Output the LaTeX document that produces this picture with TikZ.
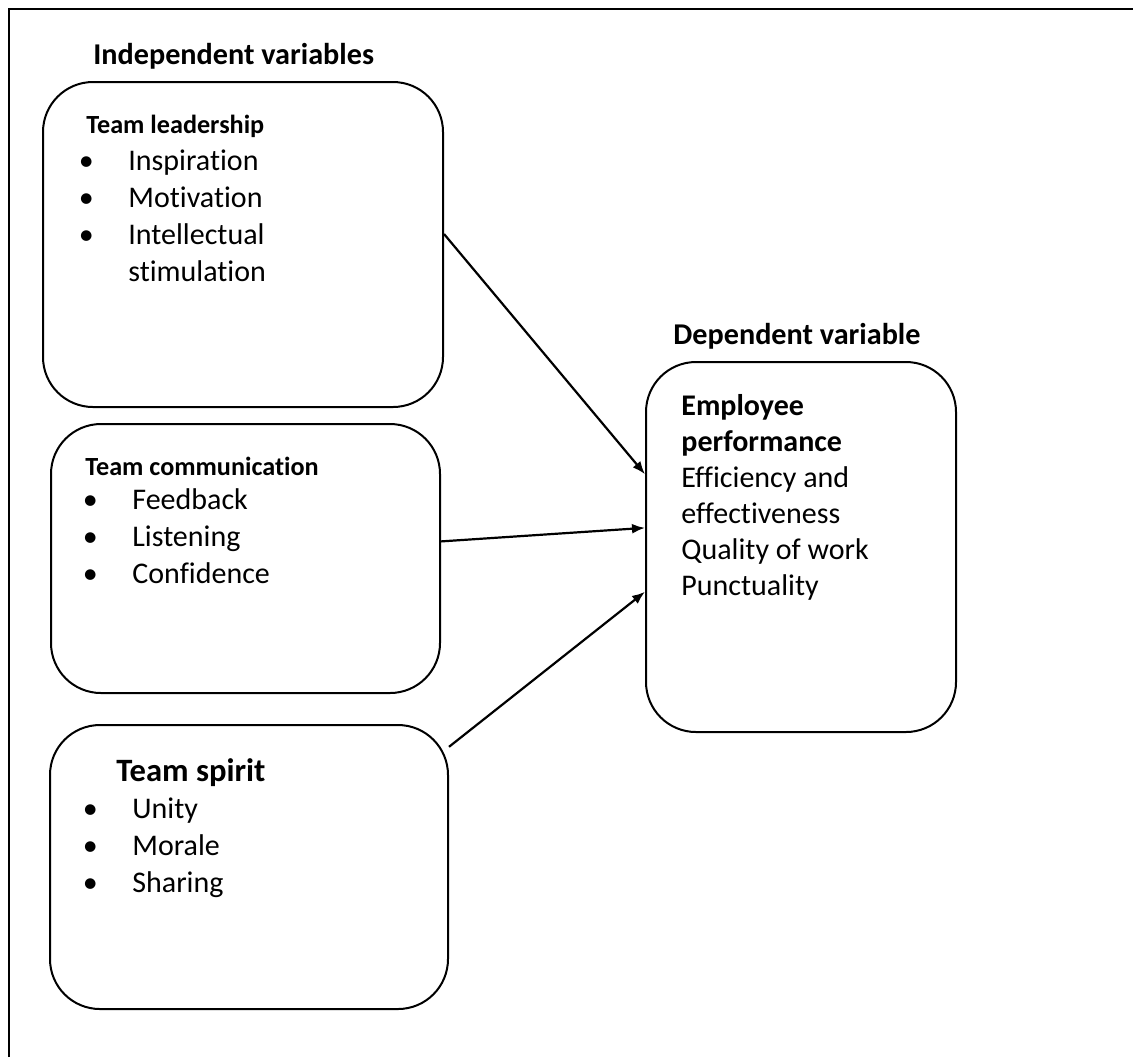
\documentclass[tikz,border=0pt]{standalone}
\usepackage{fontspec}
\setmainfont{Carlito}[Ligatures=NoCommon]
\usetikzlibrary{arrows.meta}
\newcommand{\bul}{\makebox[0pt]{\textbullet}\hspace{21pt}}
\newcommand{\listfont}{\fontsize{15}{18.5}\selectfont}
\tikzset{
  varbox/.style={draw, line width=1pt, rounded corners=25pt, inner sep=0pt},
  txt/.style={anchor=base west, inner sep=0pt},
  head/.style={txt, font=\fontsize{13.1}{15.7}\selectfont\bfseries},
  title/.style={txt, font=\fontsize{15.1}{18}\selectfont\bfseries},
  link/.style={line width=1.1pt, -{Latex[length=6.5pt,width=5pt]}}
}

\begin{document}
\begin{tikzpicture}[x=0.5pt, y=-0.5pt]
\useasboundingbox (0,0) rectangle (1133,1057);
\draw[line width=1pt] (9,1057) -- (9,9) -- (1133,9);

\node[title] (indep) at (93,64) {Independent variables};
\node[title] (dep) at (673,344) {Dependent variable};

\node[varbox, minimum width=200pt, minimum height=162.5pt] (lead) at (243,244.5) {};
\node[varbox, minimum width=194.5pt, minimum height=134.5pt] (comm) at (245.5,558.5) {};
\node[varbox, minimum width=199pt, minimum height=142pt] (spirit) at (249,867) {};
\node[varbox, minimum width=155pt, minimum height=185pt] (perf) at (801,547) {};

\node[head] (leadhead) at (86,133) {Team leadership};
\node[txt, font=\listfont] (leadlist) at (86,170) {\begin{tabular}[t]{@{}l@{}}
  \bul Inspiration\\ \bul Motivation\\ \bul Intellectual\\ \hspace*{21pt}stimulation
\end{tabular}};

\node[head] (commhead) at (85,475) {Team communication};
\node[txt, font=\listfont] (commlist) at (90,509) {\begin{tabular}[t]{@{}l@{}}
  \bul Feedback\\ \bul Listening\\ \bul Confidence
\end{tabular}};

\node[txt, font=\fontsize{16.3}{19.5}\selectfont\bfseries] (spirithead) at (116,781) {Team spirit};
\node[txt, font=\listfont] (spiritlist) at (90,818) {\begin{tabular}[t]{@{}l@{}}
  \bul Unity\\ \bul Morale\\ \bul Sharing
\end{tabular}};

\node[txt, font=\fontsize{15}{18}\selectfont] (perftext) at (681,415) {\begin{tabular}[t]{@{}l@{}}
  \textbf{Employee}\\ \textbf{performance}\\ Efficiency and\\ effectiveness\\ Quality of work\\ Punctuality
\end{tabular}};

\draw[link] (lead.3) -- (perf.155);
\draw[link] (comm.5) -- (perf.173);
\draw[link] (spirit.31) -- (perf.196);
\end{tikzpicture}
\end{document}
